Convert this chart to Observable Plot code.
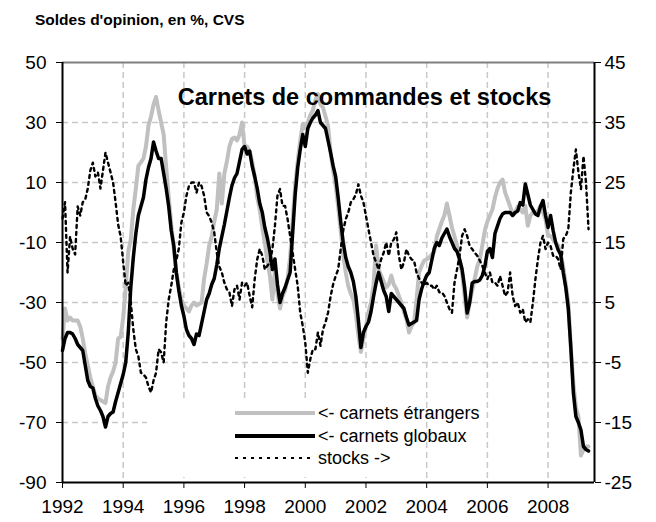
<!DOCTYPE html>
<html><head><meta charset="utf-8">
<script src="https://cdn.jsdelivr.net/npm/d3@7"></script>
<script src="https://cdn.jsdelivr.net/npm/@observablehq/plot@0.6"></script>
<style>
body{margin:0;background:#fff;font-family:"Liberation Sans",Arial,sans-serif;}
#wrap{position:relative;width:656px;height:522px;}
#sub{position:absolute;left:35px;top:11px;font-weight:bold;font-size:15.5px;color:#000;}
#chart{position:absolute;left:0;top:0;}
</style></head><body>
<div id="wrap"><div id="chart"></div><div id="sub">Soldes d'opinion, en %, CVS</div></div>
<script>
// Monthly series, Jan 1992 -> May 2009
const startYear = 1992;
const etrangers = [
-42,-32,-36,-35,-36,-36,-36,-38,-42,-47,-51,-55,
-58,-61,-62,-62.5,-63,-63.5,-58,-55,-53,-50,-42,-41.5,
-35,-25,-13,-9,1,8,15.6,16.7,18,22,29,32,
36,38.5,34,30,26,15,5,-4,-12,-20,-25,-29,
-31,-32,-33,-31,-30,-31,-30.5,-30,-22,-17,-11,-8,
-3,1,13,3,13,17,22,24.5,25,24,26,30,
22,22,20.5,17,12,5,1,-5,-10,-16,-21,-29,
-19,-27,-32,-28,-26,-22,-15,-3,9,17,24,29.5,
28,30,32.5,34,37.5,39.5,36,35,32,29,20,14,
9,2,-6,-14,-20,-24.5,-27,-29,-34,-41,-46.5,-42,
-38,-33,-30,-24,-11,-18.9,-21,-23,-25,-24,-21,-24,
-25.5,-27.8,-30,-33,-35.5,-40,-38,-36.7,-29,-20,-17.8,-16,
-15.6,-15,-14,-13,-8,-5.5,-3,-1,3,-1,-5,-8,
-11,-16,-20,-28,-35,-30,-26,-22,-18,-15.6,-11,-6,
-3,-1,1,5,8,10,11,6.7,4.4,2,-0.5,0,
2,1,0,2.2,-4.4,-1.1,0,0,0.5,2.2,0,-2.2,
-7.8,-7.8,-9,-10,-11,-14,-18,-24,-30,-45,-57,-65,
-68,-81,-79,-78,-78
];
const globaux = [
-46,-42,-40,-40,-40.5,-42,-44,-45,-46,-51,-56,-58,
-58.5,-62,-64.5,-66,-68,-71.5,-68,-67,-66.5,-63,-60,-57,
-54,-50,-40,-25,-15,-7,-1,2,5,11,15,18,
23.5,20.5,18,18,13,8,2,-6,-11,-20,-26,-31,
-34.5,-39,-41,-42,-44,-40.5,-41,-37,-33,-29,-27,-24,
-22,-17.5,-12,-8,-4,0.5,5,9,11.5,13,17,21,
22,19.5,20.5,15.5,12,8,3,0,-5,-8.5,-13,-19,
-15.5,-24,-30,-27,-25,-22.5,-20,-7,6,15,21,26,
22,28,30,31.5,32.5,34,30,29,28,24,20,15.6,
12,5,-3,-10,-15,-18,-20,-23,-28,-36,-45,-40,
-38,-36.5,-33,-28,-23.5,-20,-23,-26,-28,-33,-27,-28,
-29,-30,-31,-32,-35,-37.5,-37,-36.5,-36,-29,-25.5,-23,
-21,-20,-16,-12,-10,-11,-8.5,-7,-5.5,-8,-10,-12,
-13,-15.6,-18.9,-25,-33.5,-30,-23.5,-23,-23,-22.5,-21,-18,
-13,-12,-15,-7,-4.5,-2,-0.5,0,0,0,-1,0,
0.5,3.3,2.5,9.5,6,2.5,1,-0.5,-1,2,4,-1,
-5,-1,-6,-10,-12.5,-14,-20,-25,-32,-45,-60,-68,
-70,-72.5,-78,-79,-79.5
];
const stocks = [
19,21.7,10,16,14,13,21,19.5,21.7,22.2,24,27,
28.3,26,26.7,24,27,30,28.3,26.7,25,21.7,18,16,
11.7,7.8,8.3,5,0.5,-2.8,-4,-6.7,-7,-7.5,-9,-10,
-8,-6.7,-2.8,-3.3,-5,1.7,5.5,7.8,10.5,12,14,18.3,
20,22.8,24.4,25,25,23.3,25,24.4,22.8,20,19.4,18.3,
16.7,13.3,11,10,8.3,7.2,6.7,4.4,7.2,7.8,5.5,8.3,
7.8,8.3,6.1,4.2,8.9,12.2,13.9,12.8,10.5,11.1,11.7,13.9,
17.8,22.8,23.9,21.1,21.1,18.9,16.1,13.3,10.5,7.8,3.3,1.1,
-1.7,-6.7,-4.4,-2.8,-2.8,0,-2.2,0.5,1.7,3.3,6,8,
9.4,10.5,13.9,17,18.9,20,21.7,22.2,23,24.7,22.8,21.7,
19.4,17.2,15,12.8,11.7,10.5,12.2,13.3,15,12.8,15,15.5,
16.7,12.8,10.5,11.7,13.9,12.8,12.2,12,10,9,8.3,7.8,
8.3,7.8,7.8,7.2,7.8,6.7,6.7,6.1,5,3.9,3.3,8.3,
10.5,12.8,16.1,17.2,16.1,14.4,13.9,13.3,12.8,12,11.1,10,
8.9,10,8.3,8.3,7.8,9.4,7.8,6.1,6.7,10,6.1,4.4,
5,3.3,3.9,1.7,2.2,1.7,5,8.9,12.2,15,16.1,13.9,
15,14.4,12.8,12.8,12.2,10.5,15.6,16.1,17.2,23.3,27.2,30.5,
26.7,23.9,29.4,25,17.2
];
const xTicks = [1992,1994,1996,1998,2000,2002,2004,2006,2008];
const leftTicks = [-90,-70,-50,-30,-10,10,30,50];
const rightTicks = [-25,-15,-5,5,15,25,35,45];
const xMin = 1992, xMax = 2009.53;
const title = "Carnets de commandes et stocks";
const legendLabels = ["<- carnets étrangers", "<- carnets globaux", "stocks ->"];

// map right-axis (stocks) values onto left scale
const toLeft = s => -90 + (s - rightTicks[0]) * (140 / 70);
const fromLeft = v => (v + 90) * (70 / 140) + rightTicks[0];

const mk = arr => arr.map((v, i) => ({t: startYear + i / 12, v}));
const dE = mk(etrangers), dG = mk(globaux), dS = mk(stocks);

const grid = {stroke: "#c8c8c8", strokeWidth: 1.5, strokeDasharray: "6,4"};
const chart = Plot.plot({
  width: 656, height: 522,
  marginTop: 62, marginBottom: 40, marginLeft: 62, marginRight: 62,
  style: {fontFamily: "Liberation Sans, Arial, sans-serif", fontSize: "19px", background: "transparent", color: "#000"},
  x: {type: "linear", domain: [xMin, xMax]},
  y: {domain: [-90, 50]},
  marks: [
    Plot.ruleY(leftTicks.filter(v => v > -90 && v < 50), grid),
    Plot.ruleX(xTicks.filter(v => v > 1992 && v <= 2002), grid),
    Plot.ruleX(xTicks.filter(v => v > 2002), grid),
    Plot.ruleY([50], {stroke: "#7f7f7f", strokeWidth: 2}),
    Plot.line(dE, {x: "t", y: "v", stroke: "#c0c0c0", strokeWidth: 4}),
    Plot.line(dG, {x: "t", y: "v", stroke: "#000", strokeWidth: 3.5}),
    Plot.line(dS, {x: "t", y: d => toLeft(d.v), stroke: "#000", strokeWidth: 2.4, strokeDasharray: "3,4"}),
    Plot.axisY({anchor: "left", ticks: leftTicks, tickFormat: v => String(v), tickSize: 6, tickPadding: 10, label: null, fontSize: 19}),
    Plot.axisY({anchor: "right", ticks: leftTicks, tickFormat: v => String(fromLeft(v)), tickSize: 6, tickPadding: 4, label: null, fontSize: 19}),
    Plot.axisX({ticks: xTicks, tickFormat: d => String(d), tickSize: 6, tickPadding: 11, label: null, fontSize: 19}),
    Plot.ruleX([xMin], {stroke: "#000", strokeWidth: 2}),
    Plot.ruleX([xMax], {stroke: "#000", strokeWidth: 2}),
    Plot.ruleY([-90], {stroke: "#000", strokeWidth: 2}),
    Plot.text([title], {text: d => d, frameAnchor: "top", dx: 36, dy: 26, fontSize: 23.5, fontWeight: "bold", fill: "#000"})
  ]
});
document.getElementById("chart").appendChild(chart);

// legend: white box hides part of the grid (inserted after the early vertical grid group)
const NS = "http://www.w3.org/2000/svg";
const el = (name, attrs) => { const e = document.createElementNS(NS, name); for (const k in attrs) e.setAttribute(k, attrs[k]); return e; };
const groups = Array.from(chart.children).filter(n => n.tagName.toLowerCase() === "g");
const earlyGrid = groups[1];
const box = el("rect", {x: 147, y: 400, width: 594 - 147, height: 77, fill: "#fff"});
if (earlyGrid) earlyGrid.after(box); else chart.insertBefore(box, chart.firstChild);
const lg = el("g", {"font-family": "Liberation Sans, Arial, sans-serif", "font-size": 18, "text-anchor": "start"});
const rows = [
  {y: 413, stroke: "#c0c0c0", w: 4, dash: null},
  {y: 436, stroke: "#000", w: 4, dash: null},
  {y: 458, stroke: "#000", w: 2, dash: "3,5"}
];
rows.forEach((r, i) => {
  const ln = el("line", {x1: 235, x2: 315, y1: r.y, y2: r.y, stroke: r.stroke, "stroke-width": r.w});
  if (r.dash) ln.setAttribute("stroke-dasharray", r.dash);
  lg.appendChild(ln);
  const tx = el("text", {x: 318, y: r.y + 6, fill: "#000", "text-anchor": "start"});
  tx.textContent = legendLabels[i];
  lg.appendChild(tx);
});
chart.appendChild(lg);
</script>
</body></html>
